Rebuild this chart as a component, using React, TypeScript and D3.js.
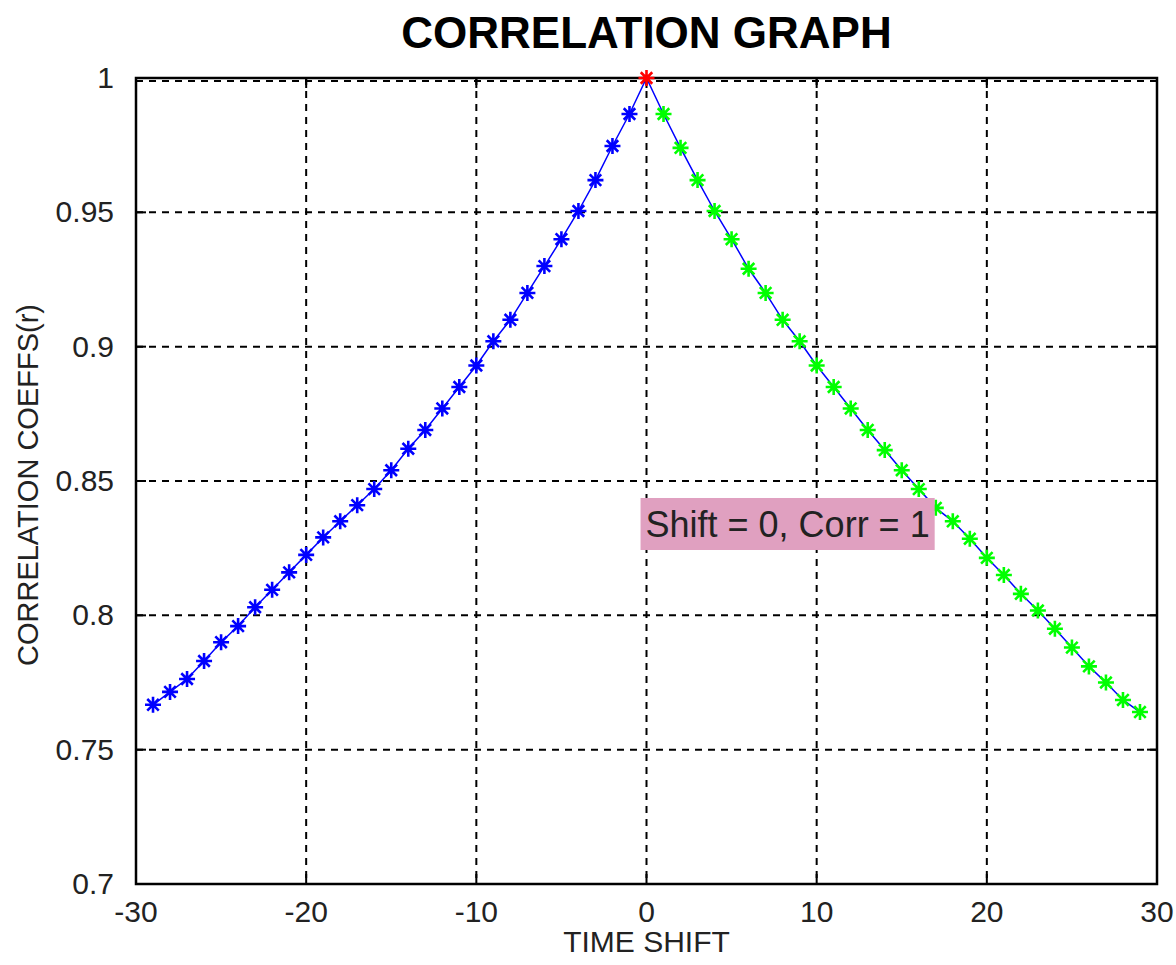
import React, { useRef, useEffect } from 'react';
import * as d3 from 'd3';

// Time shifts (lags) and correlation coefficients
const shifts = d3.range(-29, 30);
const corrLeft = [
  0.7667, 0.7715, 0.7763, 0.783, 0.790, 0.796, 0.803, 0.8095, 0.816, 0.8225,
  0.829, 0.835, 0.841, 0.847, 0.854, 0.862, 0.869, 0.877, 0.885, 0.893,
  0.902, 0.910, 0.920, 0.930, 0.940, 0.9505, 0.962, 0.9747, 0.9866,
];
const corrPeak = [1];
const corrRight = [
  0.9866, 0.974, 0.962, 0.9505, 0.940, 0.929, 0.920, 0.910, 0.902, 0.893,
  0.885, 0.877, 0.869, 0.8615, 0.854, 0.847, 0.840, 0.835, 0.8285, 0.8214,
  0.815, 0.808, 0.8018, 0.795, 0.788, 0.781, 0.775, 0.7685, 0.764,
];
const corrValues = [...corrLeft, ...corrPeak, ...corrRight];

const xTicks = [-30, -20, -10, 0, 10, 20, 30];
const yTicks = [0.7, 0.75, 0.8, 0.85, 0.9, 0.95, 1];
const yTickLabels = ['0.7', '0.75', '0.8', '0.85', '0.9', '0.95', '1'];

const annotationText = 'Shift = 0, Corr = 1';
const annotationPos = { shift: -0.35, corr: 0.834 };

const App = () => {
  const svgRef = useRef<SVGSVGElement | null>(null);

  useEffect(() => {
    if (!svgRef.current) return;
    const width = 1176;
    const height = 965;
    const left = 136;
    const right = 1157;
    const top = 78;
    const bottom = 884;
    const font = 'Arial, "Liberation Sans", Helvetica, sans-serif';

    const svg = d3.select(svgRef.current);
    svg.selectAll('*').remove();
    svg.attr('width', width).attr('height', height);

    svg.append('rect').attr('width', width).attr('height', height).attr('fill', '#ffffff');

    const x = d3.scaleLinear().domain([-30, 30]).range([left, right]);
    const y = d3.scaleLinear().domain([0.7, 1]).range([bottom, top]);

    // grid
    const grid = svg.append('g')
      .attr('stroke', '#000')
      .attr('stroke-width', 2)
      .attr('stroke-dasharray', '7,6');
    xTicks.slice(1, -1).forEach(t => {
      grid.append('line')
        .attr('x1', x(t)).attr('x2', x(t))
        .attr('y1', y(1)).attr('y2', y(0.7));
    });
    yTicks.slice(1).forEach(t => {
      grid.append('line')
        .attr('x1', x(-30)).attr('x2', x(30))
        .attr('y1', y(t) + (t === 1 ? 3 : 0)).attr('y2', y(t) + (t === 1 ? 3 : 0));
    });

    // frame
    svg.append('rect')
      .attr('x', x(-30)).attr('y', y(1))
      .attr('width', x(30) - x(-30)).attr('height', y(0.7) - y(1))
      .attr('fill', 'none').attr('stroke', '#000').attr('stroke-width', 2.5);

    // inward ticks
    const tickLen = 10;
    const ticks = svg.append('g').attr('stroke', '#000').attr('stroke-width', 2);
    xTicks.forEach(t => {
      ticks.append('line').attr('x1', x(t)).attr('x2', x(t)).attr('y1', y(0.7)).attr('y2', y(0.7) - tickLen);
      ticks.append('line').attr('x1', x(t)).attr('x2', x(t)).attr('y1', y(1)).attr('y2', y(1) + tickLen);
    });
    yTicks.forEach(t => {
      ticks.append('line').attr('x1', x(-30)).attr('x2', x(-30) + tickLen).attr('y1', y(t)).attr('y2', y(t));
      ticks.append('line').attr('x1', x(30)).attr('x2', x(30) - tickLen).attr('y1', y(t)).attr('y2', y(t));
    });

    // tick labels
    xTicks.forEach(t => {
      svg.append('text')
        .attr('x', x(t)).attr('y', y(0.7) + 38)
        .attr('text-anchor', 'middle')
        .attr('font-family', font).attr('font-size', 30).attr('fill', '#222')
        .text(String(t));
    });
    yTicks.forEach((t, i) => {
      svg.append('text')
        .attr('x', x(-30) - 22).attr('y', y(t) + 10)
        .attr('text-anchor', 'end')
        .attr('font-family', font).attr('font-size', 30).attr('fill', '#222')
        .text(yTickLabels[i]);
    });

    // line through all points
    const data = shifts.map((s, i) => ({ shift: s, corr: corrValues[i] }));
    const line = d3.line<{ shift: number; corr: number }>()
      .x(d => x(d.shift))
      .y(d => y(d.corr));
    svg.append('path')
      .attr('d', line(data))
      .attr('fill', 'none')
      .attr('stroke', '#0000ff')
      .attr('stroke-width', 1.5);

    // asterisk markers
    const r = 8;
    const k = r * 0.72;
    const star = `M${-r},0L${r},0M0,${-r}L0,${r}M${-k},${-k}L${k},${k}M${-k},${k}L${k},${-k}`;
    const markerColor = (s: number) => (s < 0 ? '#0000ff' : s === 0 ? '#ff0000' : '#00ff00');
    svg.append('g')
      .selectAll('path')
      .data(data)
      .enter()
      .append('path')
      .attr('transform', d => `translate(${x(d.shift)},${y(d.corr)})`)
      .attr('d', star)
      .attr('fill', 'none')
      .attr('stroke', d => markerColor(d.shift))
      .attr('stroke-width', 2.6);

    // annotation
    const ann = svg.append('g');
    const annText = ann.append('text')
      .attr('x', x(annotationPos.shift) + 5)
      .attr('y', y(annotationPos.corr) + 13)
      .attr('font-family', font).attr('font-size', 36).attr('fill', '#222')
      .text(annotationText);
    const bb = (annText.node() as SVGTextElement).getBBox();
    ann.insert('rect', 'text')
      .attr('x', x(annotationPos.shift))
      .attr('y', y(annotationPos.corr) - 26)
      .attr('width', bb.width + 10)
      .attr('height', 52)
      .attr('fill', '#e0a0c0');

    // title and axis labels
    svg.append('text')
      .attr('x', x(0)).attr('y', 48)
      .attr('text-anchor', 'middle')
      .attr('font-family', font).attr('font-size', 44).attr('font-weight', 'bold')
      .attr('fill', '#000')
      .text('CORRELATION GRAPH');
    svg.append('text')
      .attr('x', x(0)).attr('y', 952)
      .attr('text-anchor', 'middle')
      .attr('font-family', font).attr('font-size', 30).attr('fill', '#222')
      .text('TIME SHIFT');
    svg.append('text')
      .attr('transform', `translate(38,${(top + bottom) / 2 + 4}) rotate(-90)`)
      .attr('text-anchor', 'middle')
      .attr('font-family', font).attr('font-size', 29).attr('fill', '#222')
      .text('CORRELATION COEFFS(r)');
  }, []);

  return (
    <div style={{ position: 'absolute', left: 0, top: 0 }}>
      <svg ref={svgRef} style={{ display: 'block' }}></svg>
    </div>
  );
};

export default App;
